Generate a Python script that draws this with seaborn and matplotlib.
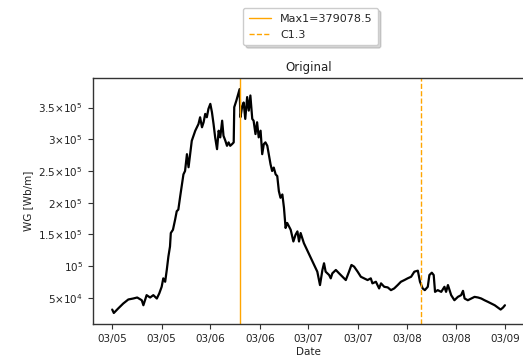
import matplotlib
matplotlib.use("Agg")
import matplotlib.pyplot as plt
import seaborn as sns
import pandas as pd
import matplotlib.dates as mdates
from matplotlib.ticker import FixedLocator, FixedFormatter

# ---- data ----
start_date = "2005-03-01"
day_offsets = [0, 6, 22, 41, 60, 78, 93, 110, 116, 128, 141, 153, 166, 175, 184, 190, 197, 203,
               209, 215, 218, 226, 234, 240, 246, 253, 265, 271, 278, 284, 296, 309, 321, 327,
               334, 340, 346, 352, 358, 365, 371, 377, 383, 390, 396, 402, 409, 414, 421, 427,
               433, 439, 446, 452, 454, 462, 474, 477, 483, 489, 495, 502, 508, 514, 521, 526,
               533, 539, 545, 552, 558, 564, 570, 577, 589, 595, 601, 608, 614, 620, 626, 633,
               639, 645, 651, 664, 674, 682, 689, 695, 701, 713, 763, 773, 782, 788, 794, 807,
               813, 819, 832, 844, 857, 869, 881, 890, 900, 913, 925, 937, 950, 962, 968, 981,
               993, 1000, 1012, 1025, 1037, 1049, 1062, 1074, 1087, 1099, 1112, 1124, 1137, 1145,
               1155, 1163, 1174, 1180, 1189, 1196, 1201, 1211, 1224, 1236, 1242, 1249, 1261, 1273,
               1286, 1298, 1305, 1311, 1323, 1336, 1348, 1361, 1373, 1385, 1398, 1410, 1423, 1435,
               1445, 1454, 1461]
wg_values = [31600, 26200, 33200, 41100, 47500, 49000, 50600, 46300, 38400, 54300, 50600, 54300,
             49000, 57000, 67500, 80800, 75400, 94000, 115100, 131000, 152200, 157400, 173300,
             186500, 189200, 210300, 244700, 250000, 276500, 255900, 297600, 313500, 324100,
             334700, 318900, 326800, 340000, 334700, 347900, 355800, 342700, 324100, 303000,
             284400, 313500, 303000, 329300, 305500, 297600, 289700, 295100, 289700, 292400,
             295100, 350600, 361100, 379078.5, 334700, 350600, 358000, 332100, 366500, 345200,
             369000, 332100, 329300, 308200, 326800, 303000, 313500, 276500, 292400, 295100,
             289700, 260600, 250000, 255400, 244700, 242000, 218200, 207800, 213000, 191900,
             160200, 168100, 157400, 138900, 149500, 154800, 138900, 152200, 136300, 91300,
             70200, 94000, 104600, 91300, 86000, 80800, 88700, 94000, 88700, 83300, 78100,
             91300, 101900, 99200, 91300, 83300, 80800, 78100, 80800, 72900, 75400, 64900,
             72900, 67500, 66500, 62200, 64900, 70200, 75400, 78100, 80800, 83300, 91300, 92900,
             75400, 64900, 62200, 67500, 86000, 89700, 86000, 59500, 62200, 59500, 67500, 59500,
             70200, 54300, 46300, 51600, 54300, 61100, 49000, 46300, 49000, 51600, 50600, 49000,
             46300, 43700, 41100, 38400, 34800, 31600, 34800, 38400]

max_date = "2006-06-18"
max_value = 379078.5
c_date = "2008-04-21"
c_label = "C1.3"

x_tick_dates = ["2005-03-01", "2005-09-01", "2006-03-01", "2006-09-01", "2007-03-01",
                "2007-09-01", "2008-03-01", "2008-09-01", "2009-03-01"]
x_tick_labels = ["03/05", "03/05", "03/06", "03/06", "03/07", "03/07", "03/08", "03/08", "03/09"]
y_tick_values = [50000, 100000, 150000, 200000, 250000, 300000, 350000]
y_tick_labels = [r"$5{\times}10^{4}$", r"$10^{5}$", r"$1.5{\times}10^{5}$", r"$2{\times}10^{5}$",
                 r"$2.5{\times}10^{5}$", r"$3{\times}10^{5}$", r"$3.5{\times}10^{5}$"]

# ---- figure ----
sns.set_theme(style="ticks")
plt.rcParams["font.family"] = ["DejaVu Sans"]
plt.rcParams["font.size"] = 7.5
plt.rcParams["mathtext.default"] = "regular"

df = pd.DataFrame({
    "Date": pd.Timestamp(start_date) + pd.to_timedelta(day_offsets, unit="D"),
    "WG": wg_values,
})

fig = plt.figure(figsize=(5.23, 3.59), dpi=100)
ax = fig.add_axes([0.177, 0.097, 0.826, 0.686])

sns.lineplot(data=df, x="Date", y="WG", color="black", linewidth=1.6, ax=ax)
l1 = ax.axvline(pd.Timestamp(max_date), color="orange", linewidth=1.0,
                label=f"Max1={max_value}")
l2 = ax.axvline(pd.Timestamp(c_date), color="orange", linewidth=1.0, linestyle="--",
                label=c_label)

ax.xaxis.set_major_locator(FixedLocator(mdates.date2num(pd.to_datetime(x_tick_dates))))
ax.xaxis.set_major_formatter(FixedFormatter(x_tick_labels))
ax.yaxis.set_major_locator(FixedLocator(y_tick_values))
ax.yaxis.set_major_formatter(FixedFormatter(y_tick_labels))
ax.tick_params(labelsize=7.5, length=3.5, width=0.8, colors="#333333", labelcolor="#222222")

ax.set_xlabel("Date", fontsize=7.5, labelpad=2, color="#222222")
ax.set_ylabel("WG [Wb/m]", fontsize=7.5, color="#222222")
ax.set_title("Original", fontsize=8.5, pad=5, color="#222222")
for s in ax.spines.values():
    s.set_color("#333333")
    s.set_linewidth(1.0)

fig.legend(handles=[l1, l2], loc="upper center", bbox_to_anchor=(0.594, 0.993),
           fontsize=8, frameon=True, fancybox=True, edgecolor="#cccccc",
           shadow={"alpha": 0.22, "ox": 2, "oy": -2}, framealpha=1.0,
           handlelength=2.0, labelspacing=0.55, borderpad=0.5)

fig.savefig("out.png", dpi=100)
